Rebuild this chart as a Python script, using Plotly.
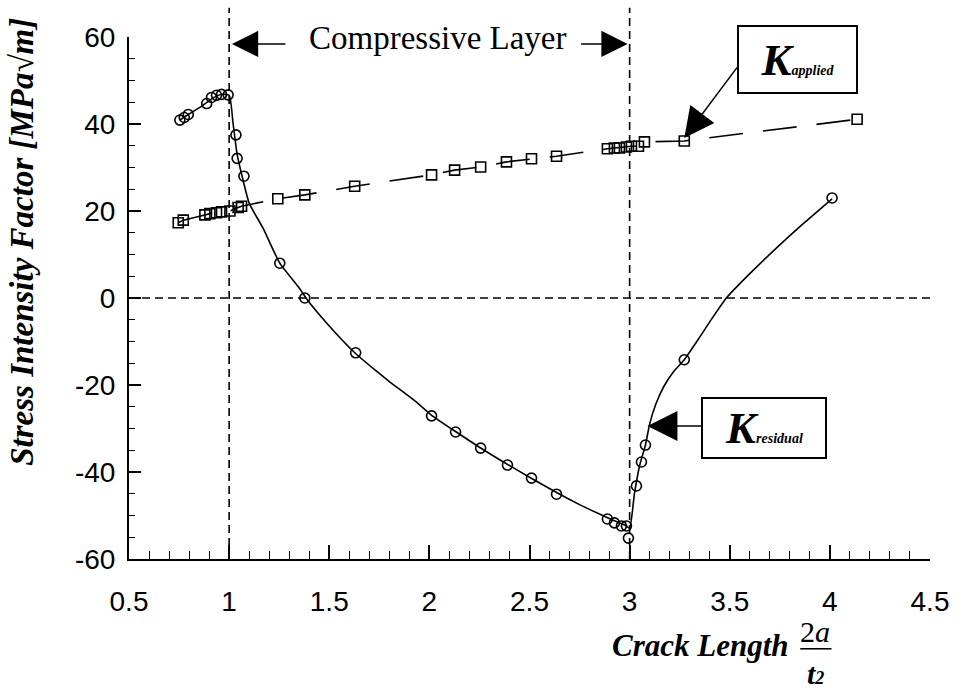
import plotly.graph_objects as go

# ---- data ----
res_x = [0.754, 0.776, 0.796, 0.888, 0.912, 0.937, 0.962, 0.995, 1.034, 1.040, 1.074,
         1.253, 1.378, 1.632, 2.011, 2.131, 2.256, 2.390, 2.510, 2.635,
         2.889, 2.924, 2.959, 2.984, 2.994, 3.034, 3.059, 3.079, 3.273, 4.011]
res_y = [40.9, 41.5, 42.2, 44.7, 46.1, 46.6, 46.8, 46.7, 37.5, 32.1, 28.0,
         8.0, 0.0, -12.6, -27.1, -30.8, -34.5, -38.4, -41.4, -45.1,
         -50.8, -51.7, -52.4, -52.4, -55.2, -43.2, -37.7, -33.8, -14.2, 23.0]

res_curve_x = [0.754, 0.80, 0.86, 0.92, 0.96, 1.00, 1.02, 1.04, 1.07, 1.10, 1.17, 1.253,
               1.35, 1.39, 1.49, 1.63, 1.73, 1.80, 1.94, 2.01, 2.25, 2.50, 2.75, 2.89,
               2.98, 3.00, 3.024, 3.05, 3.079, 3.10, 3.13, 3.17, 3.22, 3.273, 3.35, 3.41,
               3.483, 3.60, 3.75, 3.88, 4.011]
res_curve_y = [40.9, 42.3, 44.0, 46.0, 46.8, 46.6, 40.0, 33.0, 27.0, 21.8, 16.0, 8.0,
               2.3, -0.4, -5.9, -12.7, -16.6, -19.2, -24.1, -26.9, -34.3, -41.2, -47.5, -50.5,
               -52.3, -52.9, -45.0, -38.5, -33.8, -29.0, -24.5, -20.4, -16.9, -14.2, -9.0, -4.8,
               0.0, 5.6, 12.2, 17.6, 22.8]

app_x = [0.746, 0.771, 0.879, 0.904, 0.937, 0.962, 1.004, 1.045, 1.062,
         1.243, 1.378, 1.627, 2.011, 2.126, 2.256, 2.385, 2.510, 2.635,
         2.889, 2.924, 2.949, 2.984, 3.009, 3.044, 3.074, 3.273, 4.136]
app_y = [17.3, 17.9, 19.1, 19.4, 19.6, 19.8, 20.0, 20.8, 21.1,
         22.8, 23.7, 25.7, 28.3, 29.4, 30.1, 31.3, 32.0, 32.6,
         34.3, 34.5, 34.5, 34.7, 34.9, 34.9, 35.9, 36.1, 41.1]

x_ticks = [0.5, 1, 1.5, 2, 2.5, 3, 3.5, 4, 4.5]
x_ticklabels = ["0.5", "1", "1.5", "2", "2.5", "3", "3.5", "4", "4.5"]
y_ticks = [-60, -40, -20, 0, 20, 40, 60]
y_ticklabels = ["-60", "-40", "-20", "0", "20", "40", "60"]
layer_bounds = [1, 3]

SERIF = "Liberation Serif, Times New Roman, serif"
SANS = "Liberation Sans, Arial, sans-serif"

fig = go.Figure()

fig.add_trace(go.Scatter(x=app_x, y=app_y, mode="lines+markers",
                         line=dict(color="black", width=1.6, dash="34px,20px"),
                         marker=dict(symbol="square-open", size=10, color="black",
                                     line=dict(width=1.6, color="black")),
                         showlegend=False))
fig.add_trace(go.Scatter(x=res_curve_x, y=res_curve_y, mode="lines",
                         line=dict(color="black", width=1.6, shape="spline", smoothing=0.5),
                         showlegend=False))
fig.add_trace(go.Scatter(x=res_x, y=res_y, mode="markers",
                         marker=dict(symbol="circle-open", size=10, color="black",
                                     line=dict(width=1.6, color="black")),
                         showlegend=False))

shapes = []
for xb in layer_bounds:
    shapes.append(dict(type="line", xref="x", yref="paper", x0=xb, x1=xb, y0=0, y1=1.056,
                       line=dict(color="black", width=1.6, dash="8px,5px")))
shapes.append(dict(type="line", xref="x", yref="y", x0=0.5, x1=4.5, y0=0, y1=0,
                   line=dict(color="black", width=1.6, dash="8px,5px")))
# fraction bar of the x-axis title
shapes.append(dict(type="line", xref="paper", yref="paper", x0=0.838, x1=0.877,
                   y0=-0.172, y1=-0.172, line=dict(color="black", width=1.6)))

annotations = []
# Compressive layer text and arrows
annotations.append(dict(xref="paper", yref="paper", x=0.386, y=0.998, xanchor="center",
                        yanchor="middle", text="Compressive Layer",
                        showarrow=False, font=dict(family=SERIF, size=33, color="black")))
annotations.append(dict(xref="x", yref="y", x=1.014, y=58.4, ax=55, ay=0, text="",
                        showarrow=True, arrowhead=2, arrowsize=3.5, arrowwidth=1.5,
                        arrowcolor="black"))
annotations.append(dict(xref="x", yref="y", x=2.99, y=58.4, ax=-48, ay=0, text="",
                        showarrow=True, arrowhead=2, arrowsize=3.5, arrowwidth=1.5,
                        arrowcolor="black"))
# K applied box + arrow
annotations.append(dict(xref="x", yref="y", x=3.839, y=54.8, xanchor="center", yanchor="middle",
                        text="K<span style='font-size:14px'>applied</span>",
                        showarrow=False, width=117, height=65, borderwidth=2, borderpad=0,
                        bordercolor="black", bgcolor="white",
                        font=dict(family=SERIF, size=45, color="black", weight="bold",
                                  style="italic")))
annotations.append(dict(xref="x", yref="y", x=3.273, y=36.8, ax=54, ay=-72, text="",
                        showarrow=True, arrowhead=2, arrowsize=4, arrowwidth=1.5,
                        arrowcolor="black"))
# K residual box + arrow
annotations.append(dict(xref="x", yref="y", x=3.672, y=-29.9, xanchor="center", yanchor="middle",
                        text="K<span style='font-size:14px'>residual</span>",
                        showarrow=False, width=122, height=58, borderwidth=2, borderpad=0,
                        bordercolor="black", bgcolor="white",
                        font=dict(family=SERIF, size=45, color="black", weight="bold",
                                  style="italic")))
annotations.append(dict(xref="x", yref="y", x=3.089, y=-29.4, ax=55, ay=0, text="",
                        showarrow=True, arrowhead=2, arrowsize=4, arrowwidth=1.5,
                        arrowcolor="black"))
# axis titles
annotations.append(dict(xref="paper", yref="paper", x=-0.134, y=0.607, textangle=-90,
                        xanchor="center", yanchor="middle",
                        text="Stress Intensity Factor [MPa√m]", showarrow=False,
                        font=dict(family=SERIF, size=33, color="black", weight="bold",
                                  style="italic")))
annotations.append(dict(xref="paper", yref="paper", x=0.826, y=-0.166, xanchor="right",
                        yanchor="middle", text="Crack Length", showarrow=False,
                        font=dict(family=SERIF, size=31, color="black", weight="bold",
                                  style="italic")))
annotations.append(dict(xref="paper", yref="paper", x=0.857, y=-0.138, xanchor="center",
                        yanchor="middle", text="2<i>a</i>", showarrow=False,
                        font=dict(family=SERIF, size=30, color="black")))
annotations.append(dict(xref="paper", yref="paper", x=0.857, y=-0.220, xanchor="center",
                        yanchor="middle",
                        text="t<span style='font-size:18px'>2</span>", showarrow=False,
                        font=dict(family=SERIF, size=30, color="black", weight="bold",
                                  style="italic")))

fig.update_layout(
    width=962, height=690,
    margin=dict(l=129, r=32, t=37, b=131),
    paper_bgcolor="white", plot_bgcolor="white",
    shapes=shapes, annotations=annotations,
    xaxis=dict(range=[0.5, 4.5], tickvals=x_ticks, ticktext=x_ticklabels,
               ticks="inside", ticklen=14, tickwidth=1.6, tickcolor="black",
               showline=True, linecolor="black", linewidth=2, showgrid=False, zeroline=False,
               minor=dict(dtick=0.1, ticks="inside", ticklen=8, tickwidth=1.3, tickcolor="black",
                          showgrid=False),
               tickfont=dict(family=SANS, size=28, color="black"), ticklabelstandoff=16),
    yaxis=dict(range=[-60, 60], tickvals=y_ticks, ticktext=y_ticklabels,
               ticks="inside", ticklen=12, tickwidth=1.6, tickcolor="black",
               showline=True, linecolor="black", linewidth=2, showgrid=False, zeroline=False,
               minor=dict(dtick=5, ticks="inside", ticklen=6, tickwidth=1.3, tickcolor="black",
                          showgrid=False),
               tickfont=dict(family=SANS, size=28, color="black"), ticklabelstandoff=6),
)

fig.write_html("out.html")
